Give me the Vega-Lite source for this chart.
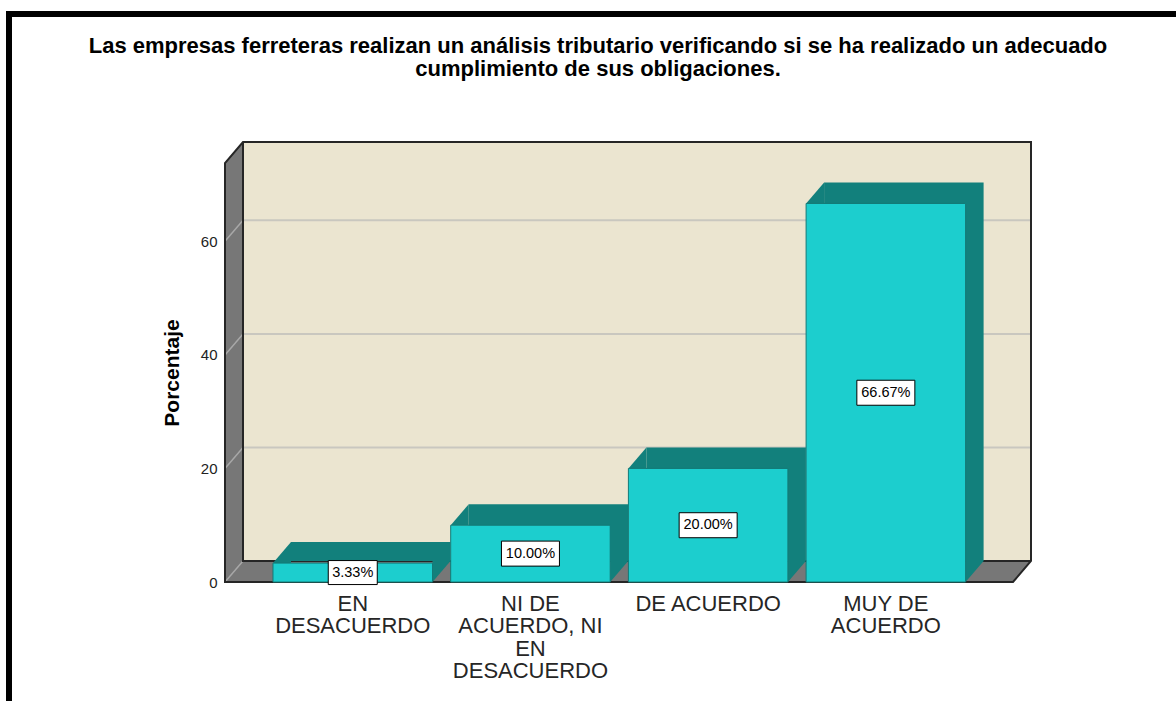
{
  "$schema": "https://vega.github.io/schema/vega-lite/v6.json",
  "width": 788,
  "height": 419,
  "autosize": {"type": "none"},
  "padding": {"left": 243, "top": 142, "right": 145, "bottom": 140},
  "background": "#ffffff",
  "config": {"view": {"fill": "#ebe5d0", "stroke": null}, "font": "Liberation Sans"},
  "title": {
    "text": ["Las empresas ferreteras realizan un análisis tributario verificando si se ha realizado un adecuado", "cumplimiento de sus obligaciones."],
    "font": "Liberation Sans",
    "fontSize": 22,
    "fontWeight": "bold",
    "color": "#000000",
    "anchor": "middle",
    "frame": "group",
    "dx": -39,
    "offset": -79,
    "lineHeight": 23
  },
  "data": {
    "values": [
      {"respuesta": "EN DESACUERDO", "porcentaje": 3.33, "etiqueta": "3.33%"},
      {"respuesta": "NI DE ACUERDO, NI EN DESACUERDO", "porcentaje": 10.0, "etiqueta": "10.00%"},
      {"respuesta": "DE ACUERDO", "porcentaje": 20.0, "etiqueta": "20.00%"},
      {"respuesta": "MUY DE ACUERDO", "porcentaje": 66.67, "etiqueta": "66.67%"}
    ]
  },
  "layer": [
    {
      "layer": [
        {
          "data": {"values": [{}]},
          "mark": {"type": "point", "shape": "M-412,0L-412,-419L-394,-440L-394,-21Z M-412,0L376,0L394,-21L-394,-21Z", "size": 4, "filled": true, "fill": "#777777", "opacity": 1, "strokeWidth": 0},
          "encoding": {"y": {"datum": 0, "type": "quantitative", "scale": {"domain": [0, 73.8], "range": [440, 21], "nice": false}}}
        },
        {
          "data": {"values": [{"tick": 0}, {"tick": 20}, {"tick": 40}, {"tick": 60}]},
          "mark": {"type": "rule", "color": "#c9c7bf", "strokeWidth": 2, "yOffset": -21},
          "encoding": {"y": {"field": "tick", "type": "quantitative", "scale": {"domain": [0, 73.8], "range": [440, 21], "nice": false}}}
        },
        {
          "data": {"values": [{"tick": 0}, {"tick": 20}, {"tick": 40}, {"tick": 60}]},
          "mark": {"type": "point", "shape": "M-412,0L-394,-21", "size": 4, "filled": false, "stroke": "#a8a8a8", "strokeWidth": 1.5, "opacity": 1},
          "encoding": {"y": {"field": "tick", "type": "quantitative", "scale": {"domain": [0, 73.8], "range": [440, 21], "nice": false}}}
        },
        {
          "data": {"values": [{}]},
          "mark": {"type": "point", "shape": "M-412,0L-412,-419L-394,-440L394,-440L394,-21L376,0Z M-394,-440L-394,-21L394,-21", "size": 4, "filled": false, "stroke": "#262626", "strokeWidth": 2, "opacity": 1},
          "encoding": {"y": {"datum": 0, "type": "quantitative", "scale": {"domain": [0, 73.8], "range": [440, 21], "nice": false}}}
        },
        {
          "data": {"values": [{}]},
          "mark": {"type": "point", "shape": "M-628,130L-628,-568L560,-568", "size": 4, "filled": false, "stroke": "#000000", "strokeWidth": 6, "opacity": 1},
          "encoding": {"y": {"datum": 0, "type": "quantitative", "scale": {"domain": [0, 73.8], "range": [440, 21], "nice": false}}}
        },
        {
          "mark": {"type": "bar", "fill": "#12807c", "xOffset": 18, "x2Offset": 18, "yOffset": -21, "y2Offset": -21},
          "encoding": {
            "x": {"field": "respuesta", "type": "nominal", "sort": null, "scale": {"type": "band", "range": [20.9, 731.7], "paddingInner": 0.1024, "paddingOuter": 0.0512}},
            "y": {"field": "porcentaje", "type": "quantitative", "scale": {"domain": [0, 73.8], "range": [440, 21], "nice": false}}
          }
        },
        {
          "mark": {"type": "point", "shape": "M0,0L18,-21L18,0Z", "size": 4, "filled": true, "fill": "#12807c", "opacity": 1, "strokeWidth": 0},
          "encoding": {
            "x": {"field": "respuesta", "type": "nominal", "sort": null, "bandPosition": 0, "scale": {"type": "band", "range": [20.9, 731.7], "paddingInner": 0.1024, "paddingOuter": 0.0512}},
            "y": {"field": "porcentaje", "type": "quantitative", "scale": {"domain": [0, 73.8], "range": [440, 21], "nice": false}}
          }
        },
        {
          "mark": {"type": "point", "shape": "M0,0L18,-21L0,-21Z", "size": 4, "filled": true, "fill": "#12807c", "opacity": 1, "strokeWidth": 0},
          "encoding": {
            "x": {"field": "respuesta", "type": "nominal", "sort": null, "bandPosition": 1, "scale": {"type": "band", "range": [20.9, 731.7], "paddingInner": 0.1024, "paddingOuter": 0.0512}},
            "y": {"datum": 0, "type": "quantitative", "scale": {"domain": [0, 73.8], "range": [440, 21], "nice": false}}
          }
        },
        {
          "mark": {"type": "bar", "fill": "#1ccece", "stroke": "#137a77", "strokeWidth": 1},
          "encoding": {
            "x": {
              "field": "respuesta", "type": "nominal", "sort": null,
              "scale": {"type": "band", "range": [20.9, 731.7], "paddingInner": 0.1024, "paddingOuter": 0.0512},
              "axis": {
                "title": null, "offset": 21, "domain": false, "ticks": false, "tickSize": 0,
                "labelAngle": 0, "labelAlign": "center", "labelFont": "Liberation Sans", "labelFontSize": 22, "labelColor": "#262626",
                "labelPadding": 11, "labelLineHeight": 22.5, "labelBaseline": "top", "labelOverlap": false, "labelLimit": 400,
                "labelExpr": "datum.label == 'EN DESACUERDO' ? ['EN', 'DESACUERDO'] : datum.label == 'NI DE ACUERDO, NI EN DESACUERDO' ? ['NI DE', 'ACUERDO, NI', 'EN', 'DESACUERDO'] : datum.label == 'MUY DE ACUERDO' ? ['MUY DE', 'ACUERDO'] : datum.label"
              }
            },
            "y": {
              "field": "porcentaje", "type": "quantitative",
              "scale": {"domain": [0, 73.8], "range": [440, 21], "nice": false},
              "axis": {
                "title": "Porcentaje", "offset": 18, "domain": false, "ticks": false, "tickSize": 0, "grid": false,
                "values": [0, 20, 40, 60], "labelFont": "Liberation Sans", "labelFontSize": 15, "labelColor": "#222222",
                "labelPadding": 8, "titleFont": "Liberation Sans", "titleFontSize": 21, "titleFontWeight": "bold",
                "titleColor": "#000000", "titlePadding": 18
              }
            }
          }
        }
      ]
    },
    {
      "layer": [
        {
          "mark": {"type": "point", "filled": true, "fill": "#ffffff", "stroke": "#000000", "strokeWidth": 1, "opacity": 1, "size": 4},
          "encoding": {
            "x": {"field": "respuesta", "type": "nominal", "sort": null, "scale": {"type": "band", "range": [20.9, 731.7], "paddingInner": 0.1024, "paddingOuter": 0.0512}},
            "y": {"field": "porcentaje", "type": "quantitative", "scale": {"domain": [0, 147.6], "range": [440, 21], "nice": false}, "axis": null},
            "shape": {"condition": {"test": "length(datum.etiqueta) < 6", "value": "M-24.5,-12H24.5V12H-24.5Z"}, "value": "M-29,-12.5H29V12.5H-29Z"}
          }
        },
        {
          "mark": {"type": "text", "font": "Liberation Sans", "fontSize": 14.5, "color": "#000000", "align": "center", "baseline": "middle"},
          "encoding": {
            "x": {"field": "respuesta", "type": "nominal", "sort": null, "scale": {"type": "band", "range": [20.9, 731.7], "paddingInner": 0.1024, "paddingOuter": 0.0512}},
            "y": {"field": "porcentaje", "type": "quantitative", "scale": {"domain": [0, 147.6], "range": [440, 21], "nice": false}, "axis": null},
            "text": {"field": "etiqueta"}
          }
        }
      ]
    }
  ],
  "resolve": {"scale": {"y": "independent"}}
}
